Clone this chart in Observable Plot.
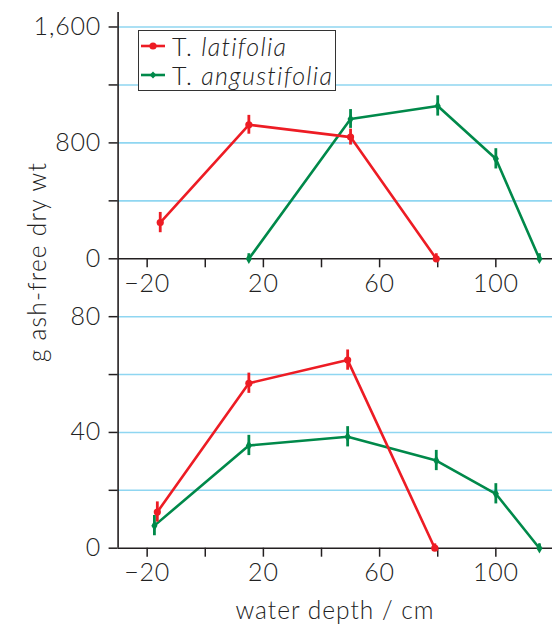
<!DOCTYPE html>
<html>
<head>
<meta charset="utf-8">
<script src="https://cdn.jsdelivr.net/npm/d3@7"></script>
<script src="https://cdn.jsdelivr.net/npm/@observablehq/plot@0.6"></script>
<style>
  html, body { margin: 0; padding: 0; background: #fff; }
  #wrap { position: relative; width: 552px; height: 625px; overflow: hidden; font-family: Lato, "Open Sans", sans-serif; font-weight: 300; color: #222; }
  #wrap > svg { position: absolute; left: 0; top: 0; }
  #legend { position: absolute; left: 138px; top: 30px; width: 198px; height: 61px; box-sizing: border-box;
    border: 1.5px solid #333; background: #fff; font-size: 25px; letter-spacing: 1.3px; line-height: 28.6px; padding-top: 1px; }
  #legend .row { display: flex; align-items: center; white-space: nowrap; }
  #legend svg { position: static; margin-left: 2px; margin-right: 7px; }
  #ylab { position: absolute; left: 36px; top: 262px; transform: translate(-50%, -50%) rotate(-90deg); font-size: 24.5px; letter-spacing: 1.2px; white-space: nowrap; }
  #xlab { position: absolute; left: 335px; top: 598px; transform: translateX(-50%); font-size: 24.5px; letter-spacing: 1px; white-space: nowrap; line-height: 1; }
</style>
</head>
<body>
<div id="wrap"></div>
<script>
// ---- data ----
const speciesNames = ["T. latifolia", "T. angustifolia"];

// upper panel
const latTopDepth = [-15.5, 15, 50, 79.5];
const latTopValue = [250, 925, 840, 0];
const latTopErr   = [70, 65, 55, 35];
const angTopDepth = [15, 50, 80, 100, 115];
const angTopValue = [0, 965, 1055, 690, 0];
const angTopErr   = [35, 65, 70, 70, 35];

// lower panel
const latBotDepth = [-16.5, 15, 49, 79];
const latBotValue = [12.5, 57, 65, 0];
const latBotErr   = [3.5, 3.5, 3.5, 1.5];
const angBotDepth = [-17.5, 15, 49, 79.5, 100, 115];
const angBotValue = [7.8, 35.5, 38.5, 30.3, 18.8, 0];
const angBotErr   = [3.5, 3.5, 3.5, 3.5, 3.5, 1.5];

// axes
const xTicks = [-20, 0, 20, 40, 60, 80, 100, 120];
const xTickLabels = [-20, 20, 60, 100];
const yTopTicks = [0, 400, 800, 1200, 1600];
const yTopLabels = [0, 800, 1600];
const yBotTicks = [0, 20, 40, 60, 80];
const yBotLabels = [0, 40, 80];
const xTitle = "water depth / cm";
const yTitle = "g ash-free dry wt";

const RED = "#ed1c24", GREEN = "#00894a", GRID = "#8fd6f1", AXIS = "#231f20";

function rows(depth, value, err) {
  return depth.map((d, i) => ({x: d, y: value[i], lo: Math.max(0, value[i] - err[i]), hi: value[i] + err[i]}));
}

const fmt = d3.format(",");
const minus = d => (d < 0 ? "\u2212" + Math.abs(d) : String(d));

function panel(opts) {
  const {height, mt, mb, ydom, yTicks, yLabels, lat, ang} = opts;
  return Plot.plot({
    width: 552, height,
    marginLeft: 117.6, marginRight: 0, marginTop: mt, marginBottom: mb,
    x: {domain: [-30, 119.5]},
    y: {domain: ydom},
    style: {background: "transparent", fontFamily: "Lato, 'Open Sans', sans-serif", fontWeight: 300, fontSize: "25px", letterSpacing: "0.8px", color: "#222", overflow: "visible"},
    marks: [
      Plot.gridY(yTicks.filter(t => t !== 0), {stroke: GRID, strokeOpacity: 1, strokeWidth: 1.6}),
      Plot.axisY({ticks: yTicks, tickFormat: d => yLabels.includes(d) ? fmt(d) : "", tickSize: 9, tickPadding: 8, label: null, stroke: AXIS, strokeWidth: 1.5}),
      Plot.axisX({ticks: xTicks, tickFormat: d => xTickLabels.includes(d) ? minus(d) : "", tickSize: 9, tickPadding: 6, label: null, stroke: AXIS, strokeWidth: 1.5}),
      Plot.ruleX([-30], {stroke: AXIS, strokeWidth: 1.6}),
      Plot.ruleY([ydom[0]], {stroke: AXIS, strokeWidth: 1.6}),
      // T. angustifolia
      Plot.line(ang, {x: "x", y: "y", stroke: GREEN, strokeWidth: 2.6}),
      Plot.ruleX(ang, {x: "x", y1: "lo", y2: "hi", stroke: GREEN, strokeWidth: 2.8}),
      Plot.dot(ang, {x: "x", y: "y", fill: GREEN, symbol: "diamond", r: 3.2}),
      // T. latifolia
      Plot.line(lat, {x: "x", y: "y", stroke: RED, strokeWidth: 2.6}),
      Plot.ruleX(lat, {x: "x", y1: "lo", y2: "hi", stroke: RED, strokeWidth: 2.8}),
      Plot.dot(lat, {x: "x", y: "y", fill: RED, r: 3.6})
    ]
  });
}

const wrap = document.getElementById("wrap");

const upperPanel = panel({
  height: 300, mt: 12, mb: 300 - 258.3, ydom: [0, 1700],
  yTicks: yTopTicks, yLabels: yTopLabels,
  lat: rows(latTopDepth, latTopValue, latTopErr),
  ang: rows(angTopDepth, angTopValue, angTopErr)
});
const lowerPanel = panel({
  height: 625, mt: 258.3, mb: 625 - 547.7, ydom: [0, 100],
  yTicks: yBotTicks, yLabels: yBotLabels,
  lat: rows(latBotDepth, latBotValue, latBotErr),
  ang: rows(angBotDepth, angBotValue, angBotErr)
});
wrap.appendChild(upperPanel);
wrap.appendChild(lowerPanel);

// axis titles
const ylab = document.createElement("div");
ylab.id = "ylab"; ylab.textContent = yTitle; wrap.appendChild(ylab);
const xlab = document.createElement("div");
xlab.id = "xlab"; xlab.textContent = xTitle; wrap.appendChild(xlab);

// legend
const legend = document.createElement("div");
legend.id = "legend";
const legendItems = [
  {name: speciesNames[0], color: RED, sym: "circle"},
  {name: speciesNames[1], color: GREEN, sym: "diamond"}
];
legend.innerHTML = legendItems.map(it => {
  const [genus, epithet] = it.name.split(" ");
  const marker = it.sym === "circle"
    ? `<circle cx="12" cy="8" r="3.6" fill="${it.color}"/>`
    : `<path d="M12,4.6L15.4,8L12,11.4L8.6,8Z" fill="${it.color}"/>`;
  return `<div class="row"><svg width="24" height="16"><line x1="0" x2="24" y1="8" y2="8" stroke="${it.color}" stroke-width="2.6"/>${marker}</svg><span>${genus}&nbsp;<i>${epithet}</i></span></div>`;
}).join("");
wrap.appendChild(legend);
</script>
</body>
</html>
